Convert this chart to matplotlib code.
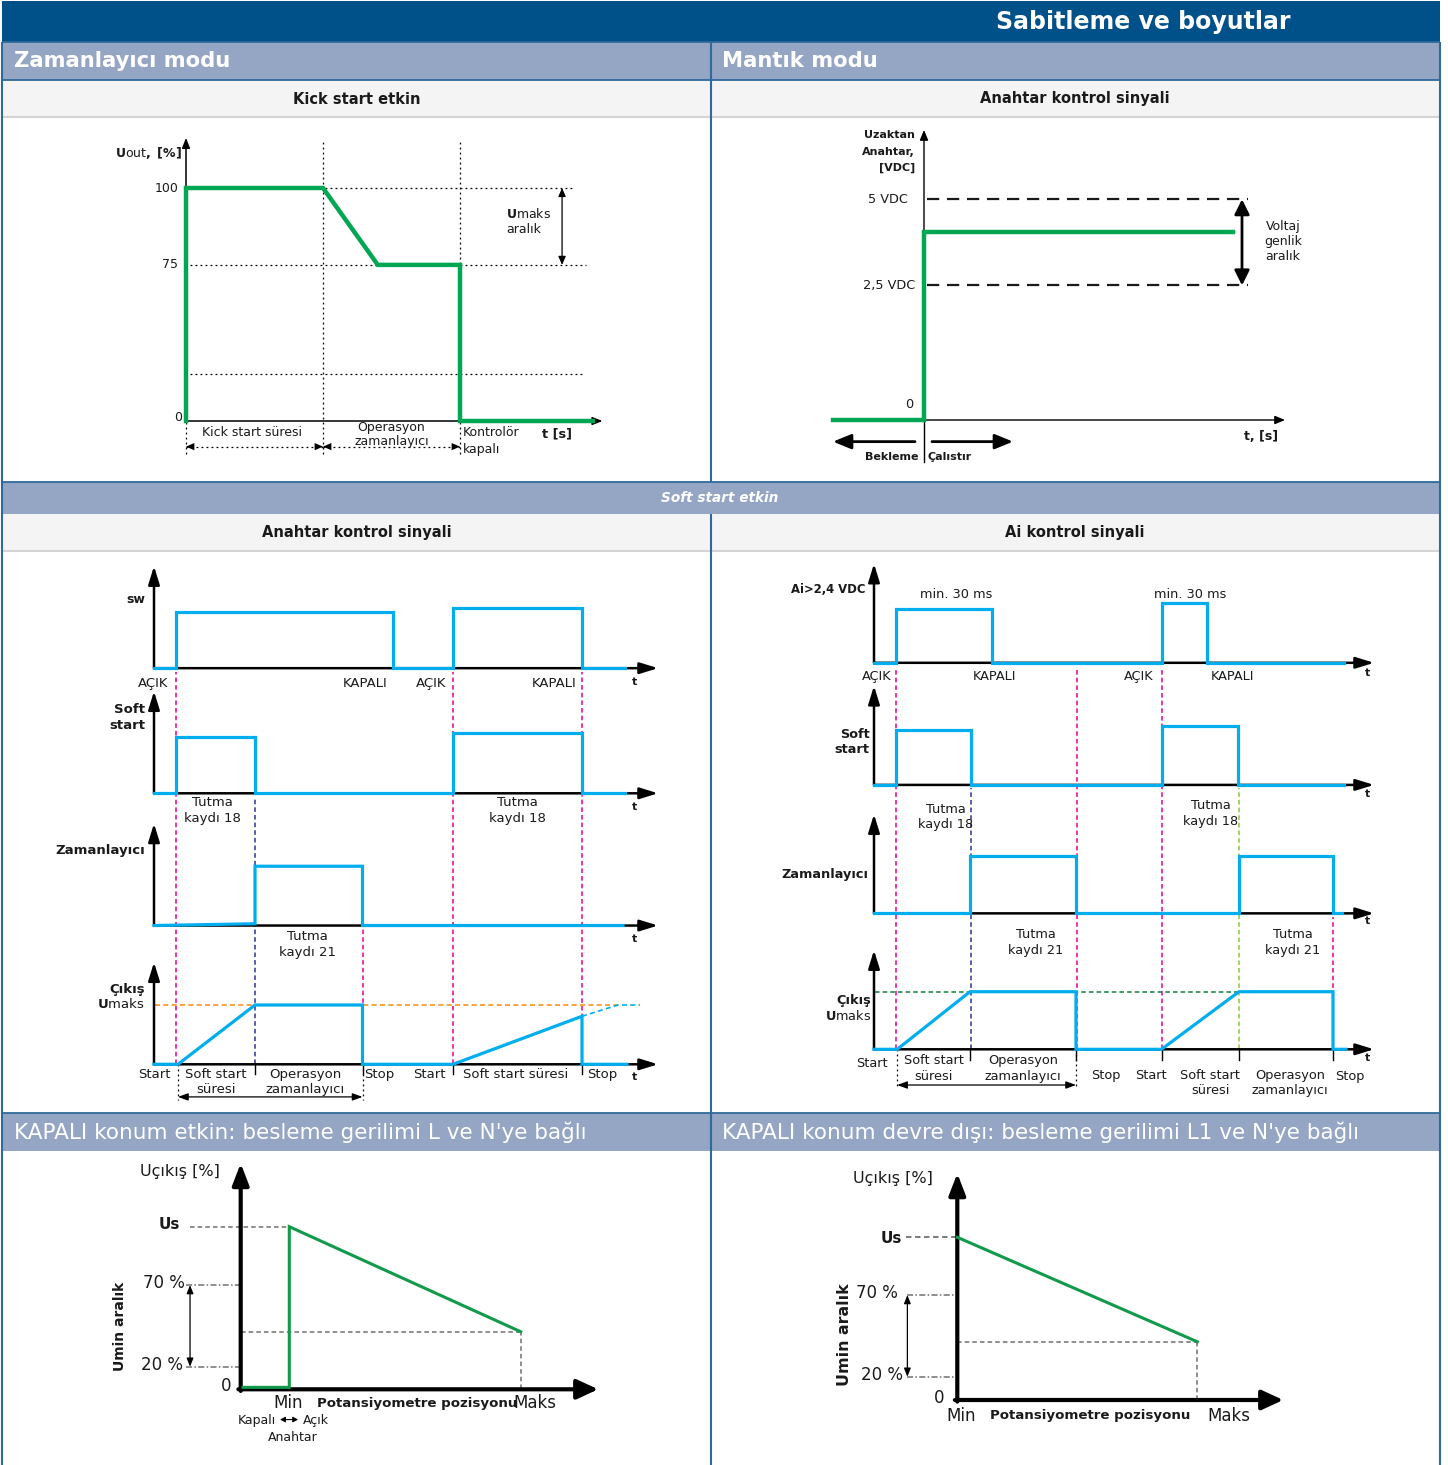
import matplotlib.pyplot as plt
from matplotlib.patches import Rectangle

plt.rcParams['font.family'] = ['DejaVu Sans']

W, H = 1448, 1465

NAVY = '#00508a'
STEEL = '#95a5c4'
LIGHT = '#f4f4f4'
EDGE = '#2f6a9a'
GREEN = '#00a651'
GREEN2 = '#109a4a'
CYAN = '#00aeef'
PINK = '#ec008c'
INDIGO = '#2e3192'
LIME = '#8dc63f'
ORANGE = '#f7941d'
DKGREEN = '#118040'
GREY = '#707070'

# ---------------- data ----------------
# kick start: t in kick-start-times, u in diagram positions (100 = top)
kick_t = [0, 0, 1.0, 1.4, 2.0, 2.0, 2.97]
kick_u = [0, 100, 100, 67, 67, 0, 0]
kick_ticks = [0, 67, 100]
kick_tick_labels = ['0', '75', '100']
kick_grid = [100, 67, 20]

# logic mode, remote switch
logic_t = [-0.91, 0, 0, 3.09]
logic_v = [0, 0, 85, 85]
logic_levels = [61, 100]
logic_level_labels = ['2,5 VDC', '5 VDC']

# soft start, switch control
sw_t = [0, 2.2, 2.2, 23.9, 23.9, 29.9, 29.9, 42.8, 42.8, 47.1]
sw_v = [0, 0, 0.95, 0.95, 0, 0, 1.02, 1.02, 0, 0]
ss_t = [0, 2.2, 2.2, 10.1, 10.1, 29.9, 29.9, 42.8, 42.8, 47.1]
ss_v = [0, 0, 0.95, 0.95, 0, 0, 1.02, 1.02, 0, 0]
tm_t = [0, 10.1, 10.1, 20.85, 20.85, 46.9]
tm_v = [0, 0.03, 1.0, 1.0, 0, 0]
out_t = [0, 2.4, 10.1, 20.85, 20.85, 29.9, 42.8, 42.8, 47.3]
out_v = [0, 0, 1.0, 1.0, 0, 0, 0.81, 0, 0]
out_ext_t = [42.8, 46.4, 48.6]
out_ext_v = [0.81, 1.0, 1.0]
sw_rows = [6.68, 4.57, 2.34, 0]

# soft start, Ai control
ai_t = [0, 2.16, 2.16, 11.78, 11.78, 28.83, 28.83, 33.32, 33.32, 47.0]
ai_v = [0, 0, 0.94, 0.94, 0, 0, 1.03, 1.03, 0, 0]
ais_t = [0, 2.16, 2.16, 9.67, 9.67, 28.83, 28.83, 36.42, 36.42, 47.0]
ais_v = [0, 0, 0.95, 0.95, 0, 0, 1.02, 1.02, 0, 0]
ait_t = [0, 9.6, 9.6, 20.2, 20.2, 36.5, 36.5, 45.9, 45.9, 46.8]
ait_v = [0, 0, 0.99, 0.99, 0, 0, 0.99, 0.99, 0, 0]
aio_t = [0, 2.32, 9.6, 20.2, 20.2, 28.75, 36.5, 45.9, 45.9, 47.2]
aio_v = [0, 0, 1, 1, 0, 0, 1, 1, 0, 0]
ai_rows = [6.71, 4.59, 2.36, 0]

# potentiometer curves (x = pot position %, y: Us = 100)
pot_on_x = [-20, 0, 0, 100]
pot_on_y = [1.2, 1.2, 100, 35.4]
pot_on_levels = [13.9, 64.1]
pot_off_x = [0, 100]
pot_off_y = [100, 35.8]
pot_off_levels = [14.3, 64.5]
pot_labels = ['20 %', '70 %']

fig = plt.figure(figsize=(W / 100, H / 100), dpi=100)

# ---------------- page layout ----------------
bg = fig.add_axes([0, 0, 1, 1])
bg.set_xlim(0, W)
bg.set_ylim(H, 0)
bg.axis('off')


def band(y0, y1, color):
    bg.add_patch(Rectangle((2, y0), 1438, y1 - y0, color=color, lw=0))


band(1, 42, NAVY)
band(42, 80, STEEL)
band(80, 117, LIGHT)
band(482, 514, STEEL)
band(514, 551, LIGHT)
band(1113, 1151, STEEL)
bg.hlines([117, 551], 2, 1440, color='#d4d4d4', lw=1.5)
bg.hlines([42, 80, 482, 1113], 2, 1440, color=EDGE, lw=1.3)
bg.vlines([711], 42, 482, color=EDGE, lw=1.5)
bg.vlines([711], 514, 1465, color=EDGE, lw=1.5)
bg.vlines([2, 1440], 42, 1465, color=EDGE, lw=1.5)

bg.text(1290, 22, 'Sabitleme ve boyutlar', color='white', fontsize=17,
        fontweight='bold', ha='right', va='center')
bg.text(14, 61, 'Zamanlayıcı modu', color='white', fontsize=15.2,
        fontweight='bold', ha='left', va='center')
bg.text(722, 61, 'Mantık modu', color='white', fontsize=15.2,
        fontweight='bold', ha='left', va='center')
bg.text(357, 99, 'Kick start etkin', color='#1a1a1a', fontsize=10.5,
        fontweight='bold', ha='center', va='center')
bg.text(1075, 99, 'Anahtar kontrol sinyali', color='#1a1a1a', fontsize=10.5,
        fontweight='bold', ha='center', va='center')
bg.text(720, 498, 'Soft start etkin', color='white', fontsize=9.8,
        fontweight='bold', style='italic', ha='center', va='center')
bg.text(357, 533, 'Anahtar kontrol sinyali', color='#1a1a1a', fontsize=10.5,
        fontweight='bold', ha='center', va='center')
bg.text(1075, 533, 'Ai kontrol sinyali', color='#1a1a1a', fontsize=10.5,
        fontweight='bold', ha='center', va='center')
bg.text(14, 1132, "KAPALI konum etkin: besleme gerilimi L ve N'ye bağlı",
        color='white', fontsize=15.5, ha='left', va='center')
bg.text(722, 1132, "KAPALI konum devre dışı: besleme gerilimi L1 ve N'ye bağlı",
        color='white', fontsize=15.5, ha='left', va='center')


def panel(box, origin, scale):
    # box in page pixels; data (0, 0) sits at origin, scale = pixels per unit
    x0, y0, x1, y1 = box
    ox, oy = origin
    sx, sy = scale
    ax = fig.add_axes([x0 / W, 1 - y1 / H, (x1 - x0) / W, (y1 - y0) / H])
    ax.set_xlim((x0 - ox) / sx, (x1 - ox) / sx)
    ax.set_ylim((oy - y1) / sy, (oy - y0) / sy)
    ax.axis('off')
    return ax


def arrow(ax, p0, p1, lw=1.5, hl=7, hw=3, style='-|>', color='k', z=3):
    ax.annotate('', xy=p1, xytext=p0, annotation_clip=False, zorder=z,
                arrowprops=dict(arrowstyle=f'{style},head_length={hl},head_width={hw}',
                                mutation_scale=1, lw=lw, color=color,
                                shrinkA=0, shrinkB=0))


def txt(ax, x, y, s, size=9, bold=False, ha='center', color='#1a1a1a', **kw):
    ax.text(x, y, s, fontsize=size, fontweight='bold' if bold else 'normal',
            ha=ha, va='center', color=color, **kw)


DOT = (0, (1.5, 2.5))

# ---------------- kick start ----------------
ax = panel((4, 118, 709, 481), (186, 421), (137, 2.33))
for y, xe in zip(kick_grid, [2.83, 2.92, 2.9]):
    ax.plot([0.03, xe], [y, y], color='k', lw=0.9, ls=DOT)
for x in [1, 2]:
    ax.plot([x, x], [-14, 121], color='k', lw=0.9, ls=DOT)
ax.plot([0, 0], [-14, 0], color='k', lw=0.9, ls=DOT)
for a, b in [(0, 1), (1, 2)]:
    ax.plot([a, b], [-11, -11], color='k', lw=0.9, ls=DOT)
    arrow(ax, (a, -11), (b, -11), lw=0.01, hl=6, hw=2.6, style='<|-|>')
arrow(ax, (0, 0), (0, 121.5), lw=1.1, hl=6, hw=2.4)
arrow(ax, (0, 0), (3.04, 0), lw=1.1, hl=6, hw=2.4)
ax.plot(kick_t, kick_u, color=GREEN, lw=3.2, solid_joinstyle='miter', zorder=4)
arrow(ax, (2.745, 67), (2.745, 100), lw=0.9, hl=5, hw=2.2, style='<|-|>')
for y, lab in zip(kick_ticks, kick_tick_labels):
    if y == 0:
        txt(ax, -0.03, 1.7, lab, ha='right')
    else:
        txt(ax, -0.055, y, lab, ha='right')
txt(ax, -0.03, 115, r'$\mathbf{U}$out$\mathbf{,\ [\%]}$', ha='right')
txt(ax, 0.48, -5.15, 'Kick start süresi')
txt(ax, 1.5, -3.0, 'Operasyon')
txt(ax, 1.5, -8.6, 'zamanlayıcı')
txt(ax, 2.02, -5.15, 'Kontrolör', ha='left')
txt(ax, 2.02, -12.4, 'kapalı', ha='left')
txt(ax, 2.6, -5.6, 't [s]', size=9.3, bold=True, ha='left')
txt(ax, 2.336, 88.8, r'$\mathbf{U}$maks', ha='left')
txt(ax, 2.336, 82, 'aralık', ha='left')

# ---------------- logic mode ----------------
ax = panel((713, 118, 1438, 481), (924, 420), (100, 2.207))
for y in logic_levels:
    ax.plot([0.03, 3.24], [y, y], color='#1a1a1a', lw=1.6, ls=(0, (5.5, 3.5)))
ax.plot([0, 0], [-19, 0], color='k', lw=1.0)
arrow(ax, (0, 0), (0, 131.4), lw=1.0, hl=6, hw=2.5)
arrow(ax, (0, 0), (3.61, 0), lw=1.0, hl=6, hw=2.5)
ax.plot(logic_t, logic_v, color=GREEN, lw=3.2, solid_joinstyle='miter', zorder=4)
arrow(ax, (3.18, logic_levels[0]), (3.18, logic_levels[1]), lw=2.0, hl=9, hw=4.5,
      style='<|-|>')
arrow(ax, (-0.09, -9.8), (-0.91, -9.8), lw=2.0, hl=11, hw=4.5)
arrow(ax, (0.08, -9.8), (0.89, -9.8), lw=2.0, hl=11, hw=4.5)
for y, lab, x in zip(logic_levels, logic_level_labels, [-0.09, -0.16]):
    txt(ax, x, y, lab, size=9.3, ha='right')
txt(ax, -0.11, 6.8, '0', size=9.3, ha='right')
for y, s in zip([129.1, 121.4, 114.2], ['Uzaktan', 'Anahtar,', '[VDC]']):
    txt(ax, -0.09, y, s, size=8, bold=True, ha='right')
for y, s in zip([87.9, 80.7, 73.9], ['Voltaj', 'genlik', 'aralık']):
    txt(ax, 3.59, y, s, size=9)
txt(ax, 3.37, -7.25, 't, [s]', size=9, bold=True)
txt(ax, -0.05, -16.8, 'Bekleme', size=8, bold=True, ha='right')
txt(ax, 0.04, -16.8, 'Çalıstır', size=8, bold=True, ha='left')


def channel_axes(ax, rows, top, xend):
    for r in rows:
        arrow(ax, (0, r), (0, r + top), lw=1.8, hl=11, hw=3.4)
        arrow(ax, (0, r), (xend, r), lw=1.8, hl=11, hw=3.4)


# ---------------- soft start: switch control ----------------
ax = panel((4, 552, 709, 1112), (154, 1064.3), (10, 59.3))
channel_axes(ax, sw_rows, 1.72, 50.4)
DASH = (0, (3, 2))
for x in [2.2, 29.9, 42.8]:
    ax.plot([x, x], [0, sw_rows[0] - 0.06], color=PINK, lw=1.1, ls=DASH, zorder=2)
ax.plot([20.85, 20.85], [0, sw_rows[2] - 0.06], color=PINK, lw=1.1, ls=DASH, zorder=2)
ax.plot([10.1, 10.1], [0, sw_rows[1] - 0.06], color=INDIGO, lw=1.1, ls=DASH, zorder=2)
ax.plot([0.1, 46.4], [1.0, 1.0], color=ORANGE, lw=1.2, ls=DASH, zorder=2)
ax.plot(out_ext_t, out_ext_v, color=CYAN, lw=1.2, ls=DASH, zorder=2)
for tt, vv, r in zip([sw_t, ss_t, tm_t, out_t], [sw_v, ss_v, tm_v, out_v], sw_rows):
    ax.plot(tt, [v + r for v in vv], color=CYAN, lw=2.3, solid_joinstyle='miter', zorder=4)
for x in [10.1, 20.85, 29.9, 42.8]:
    ax.plot([x, x], [0, -0.17], color='k', lw=1.0)
for x in [2.4, 20.85]:
    ax.plot([x, x], [0, -0.6], color='k', lw=0.9, ls=DOT)
arrow(ax, (2.4, -0.55), (20.85, -0.55), lw=0.9, hl=6, hw=2.2, style='<|-|>')

F3 = 9.5
txt(ax, -0.9, 7.83, 'sw', size=9, bold=True, ha='right')
for x, s in zip([-0.1, 21.1, 27.7, 40.0], ['AÇIK', 'KAPALI', 'AÇIK', 'KAPALI']):
    txt(ax, x, 6.42, s, size=F3)
for y in [6.45, 4.34, 2.11, -0.21]:
    txt(ax, 48.1, y, 't', size=8, bold=True)
txt(ax, -0.9, 5.98, 'Soft', size=F3, bold=True, ha='right')
txt(ax, -0.9, 5.71, 'start', size=F3, bold=True, ha='right')
for x in [5.87, 36.3]:
    txt(ax, x, 4.41, 'Tutma', size=F3)
    txt(ax, x, 4.14, 'kaydı 18', size=F3)
txt(ax, -0.9, 3.61, 'Zamanlayıcı', size=F3, bold=True, ha='right')
txt(ax, 15.35, 2.15, 'Tutma', size=F3)
txt(ax, 15.35, 1.88, 'kaydı 21', size=F3)
txt(ax, -0.9, 1.265, 'Çıkış', size=F3, bold=True, ha='right')
txt(ax, -0.9, 1.01, r'$\mathbf{U}$maks', size=F3, ha='right')
txt(ax, 0, -0.18, 'Start', size=F3)
txt(ax, 6.16, -0.18, 'Soft start', size=F3)
txt(ax, 6.16, -0.43, 'süresi', size=F3)
txt(ax, 15.1, -0.18, 'Operasyon', size=F3)
txt(ax, 15.1, -0.43, 'zamanlayıcı', size=F3)
txt(ax, 22.5, -0.18, 'Stop', size=F3)
txt(ax, 27.5, -0.18, 'Start', size=F3)
txt(ax, 36.2, -0.18, 'Soft start süresi', size=F3)
txt(ax, 44.8, -0.18, 'Stop', size=F3)

# ---------------- soft start: Ai control ----------------
ax = panel((713, 552, 1438, 1112), (874, 1049.3), (10, 57.6))
channel_axes(ax, ai_rows, 1.72, 50.0)
for x in [2.16, 20.28, 28.83]:
    ax.plot([x, x], [0, ai_rows[0] - 0.07], color=PINK, lw=1.1, ls=DASH, zorder=2)
ax.plot([45.9, 45.9], [0, ai_rows[2] - 0.07], color=PINK, lw=1.1, ls=DASH, zorder=2)
ax.plot([9.67, 9.67], [0, ai_rows[1] - 0.05], color=INDIGO, lw=1.1, ls=DASH, zorder=2)
ax.plot([36.45, 36.45], [0, ai_rows[1] - 0.05], color=LIME, lw=1.1, ls=DASH, zorder=2)
ax.plot([0.1, 36.5], [1.0, 1.0], color=DKGREEN, lw=1.1, ls=DASH, zorder=2)
for tt, vv, r in zip([ai_t, ais_t, ait_t, aio_t], [ai_v, ais_v, ait_v, aio_v], ai_rows):
    ax.plot(tt, [v + r for v in vv], color=CYAN, lw=2.3, solid_joinstyle='miter', zorder=4)
for x in [9.6, 20.2, 28.75, 36.5, 45.9]:
    ax.plot([x, x], [0, -0.19], color='k', lw=1.0)
for x in [2.32, 20.2]:
    ax.plot([x, x], [0, -0.66], color='k', lw=0.9, ls=DOT)
arrow(ax, (2.32, -0.62), (20.2, -0.62), lw=0.9, hl=6, hw=2.2, style='<|-|>')

F4 = 9.3
txt(ax, -0.86, 7.99, 'Ai>2,4 VDC', size=8.4, bold=True, ha='right')
for x in [8.2, 31.65]:
    txt(ax, x, 7.90, 'min. 30 ms', size=F4)
for x, s in zip([0.3, 12.1, 26.44, 35.82], ['AÇIK', 'KAPALI', 'AÇIK', 'KAPALI']):
    txt(ax, x, 6.47, s, size=F4)
for y in [6.54, 4.43, 2.23, -0.15]:
    txt(ax, 49.34, y, 't', size=8, bold=True)
txt(ax, -0.46, 5.47, 'Soft', size=F4, bold=True, ha='right')
txt(ax, -0.46, 5.2, 'start', size=F4, bold=True, ha='right')
txt(ax, 7.2, 4.17, 'Tutma', size=F4)
txt(ax, 7.2, 3.9, 'kaydı 18', size=F4)
txt(ax, 33.7, 4.24, 'Tutma', size=F4)
txt(ax, 33.7, 3.96, 'kaydı 18', size=F4)
txt(ax, -0.54, 3.04, 'Zamanlayıcı', size=F4, bold=True, ha='right')
for x in [16.15, 41.87]:
    txt(ax, x, 1.99, 'Tutma', size=F4)
    txt(ax, x, 1.71, 'kaydı 21', size=F4)
txt(ax, -0.26, 0.84, 'Çıkış', size=F4, bold=True, ha='right')
txt(ax, -0.26, 0.58, r'$\mathbf{U}$maks', size=F4, ha='right')
txt(ax, -0.2, -0.24, 'Start', size=F4)
txt(ax, 5.98, -0.2, 'Soft start', size=F4)
txt(ax, 5.98, -0.47, 'süresi', size=F4)
txt(ax, 14.9, -0.2, 'Operasyon', size=F4)
txt(ax, 14.9, -0.47, 'zamanlayıcı', size=F4)
txt(ax, 23.18, -0.45, 'Stop', size=F4)
txt(ax, 27.68, -0.45, 'Start', size=F4)
txt(ax, 33.64, -0.45, 'Soft start', size=F4)
txt(ax, 33.64, -0.72, 'süresi', size=F4)
txt(ax, 41.59, -0.45, 'Operasyon', size=F4)
txt(ax, 41.59, -0.72, 'zamanlayıcı', size=F4)
txt(ax, 47.55, -0.48, 'Stop', size=F4)

# ---------------- potentiometer, off position enabled ----------------
GD = (0, (3, 2))
GDD = (0, (4, 1.5, 1, 1.5))
ax = panel((4, 1152, 709, 1465), (289.3, 1389.3), (2.314, 1.626))
ax.plot([-42.9, 0], [100, 100], color=GREY, lw=1.1, ls=GD)
ax.plot([-21, 100], [35.4, 35.4], color=GREY, lw=1.1, ls=GD)
ax.plot([100, 100], [0, 35.4], color=GREY, lw=1.1, ls=GD)
for y in pot_on_levels:
    ax.plot([-44.6, -21], [y, y], color=GREY, lw=1.1, ls=GDD)
arrow(ax, (-42.9, pot_on_levels[0]), (-42.9, pot_on_levels[1]), lw=0.9, hl=5,
      hw=2, style='<|-|>')
arrow(ax, (-21, -1), (-21, 139), lw=3.0, hl=13, hw=5)
arrow(ax, (-22, 0), (133.5, 0), lw=3.0, hl=13, hw=6)
ax.plot(pot_on_x, pot_on_y, color=GREEN2, lw=2.2, solid_joinstyle='miter', zorder=4)
txt(ax, -47.2, 133.8, 'Uçıkış [%]', size=11.5)
txt(ax, -47.2, 101.3, 'Us', size=11, bold=True, ha='right')
for y, lab, x in zip(pot_on_levels, pot_labels, [-45.9, -45.1]):
    txt(ax, x, y + 1, lab, size=12, ha='right')
txt(ax, -24.9, 2, '0', size=12, ha='right')
txt(ax, -73.1, 38.5, 'Umin aralık', size=10, bold=True, rotation=90)
txt(ax, -0.6, -8.6, 'Min', size=12)
txt(ax, 12.0, -8.6, 'Potansiyometre pozisyonu', size=9.6, bold=True, ha='left')
txt(ax, 106.2, -8.6, 'Maks', size=12)
txt(ax, -5.7, -19.3, 'Kapalı', size=9, ha='right')
arrow(ax, (-4.0, -18.6), (3.8, -18.6), lw=0.8, hl=3, hw=1.6, style='<|-|>')
txt(ax, 5.9, -19.3, 'Açık', size=9, ha='left')
txt(ax, 1.5, -29.5, 'Anahtar', size=9)

# ---------------- potentiometer, off position disabled ----------------
ax = panel((713, 1152, 1438, 1465), (957.3, 1400), (2.4, 1.627))
ax.plot([-21.4, 0], [100, 100], color=GREY, lw=1.3, ls=GD)
ax.plot([0, 100], [35.8, 35.8], color=GREY, lw=1.1, ls=GD)
ax.plot([100, 100], [0, 35.8], color=GREY, lw=1.1, ls=GD)
for y in pot_off_levels:
    ax.plot([-21, 0], [y, y], color=GREY, lw=1.1, ls=GDD)
arrow(ax, (-20.8, pot_off_levels[0]), (-20.8, pot_off_levels[1]), lw=0.9, hl=5,
      hw=2, style='<|-|>')
arrow(ax, (0, -1), (0, 139.3), lw=3.0, hl=13, hw=5)
arrow(ax, (-1, 0), (135.8, 0), lw=3.0, hl=13, hw=6)
ax.plot(pot_off_x, pot_off_y, color=GREEN2, lw=2.2, zorder=4)
txt(ax, -26.8, 136.3, 'Uçıkış [%]', size=11.5)
txt(ax, -23.2, 99.4, 'Us', size=11, bold=True, ha='right')
for y, lab, x in zip(pot_off_levels, pot_labels, [-22.75, -24.7]):
    txt(ax, x, y + 1, lab, size=12, ha='right')
txt(ax, -7.5, 1.5, '0', size=12)
txt(ax, -46.8, 40, 'Umin aralık', size=11.4, bold=True, rotation=90)
txt(ax, 1.5, -9.8, 'Min', size=12)
txt(ax, 55.3, -9.8, 'Potansiyometre pozisyonu', size=9.6, bold=True)
txt(ax, 113.3, -9.8, 'Maks', size=12)

fig.savefig('out.png', dpi=100)
